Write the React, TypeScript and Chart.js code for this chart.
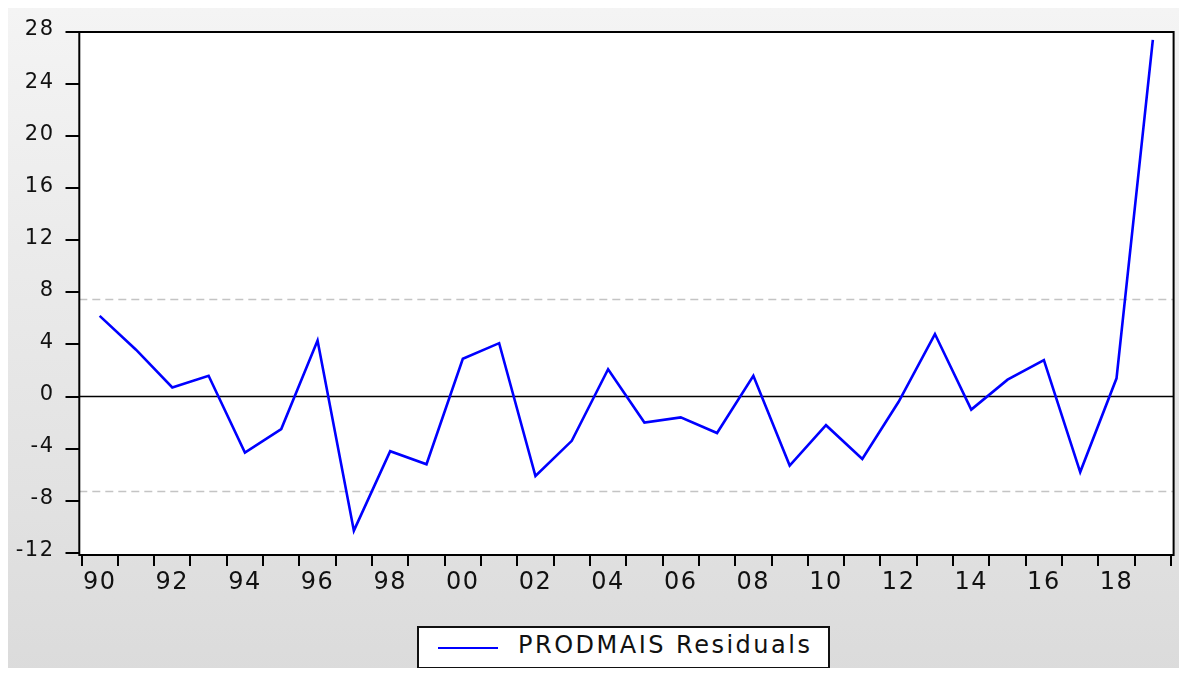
import { useEffect, useRef } from 'react';
import { Chart, registerables } from 'chart.js';

Chart.register(...registerables);

const YEARS = [
  '1990', '1991', '1992', '1993', '1994', '1995', '1996', '1997', '1998', '1999',
  '2000', '2001', '2002', '2003', '2004', '2005', '2006', '2007', '2008', '2009',
  '2010', '2011', '2012', '2013', '2014', '2015', '2016', '2017', '2018', '2019',
];

const RESIDUALS = [
  6.2, 3.6, 0.7, 1.6, -4.3, -2.5, 4.3, -10.3, -4.2, -5.2,
  2.9, 4.1, -6.1, -3.4, 2.1, -2.0, -1.6, -2.8, 1.6, -5.3,
  -2.2, -4.8, -0.4, 4.8, -1.0, 1.3, 2.8, -5.8, 1.4, 27.4,
];

const Y_TICKS = [-12, -8, -4, 0, 4, 8, 12, 16, 20, 24, 28];

const SERIES_NAME = 'PRODMAIS Residuals';
const Y_MIN = -12.17;
const Y_MAX = 28;
const BANDS = [7.45, -7.3];
const ZERO = 0;

const LINE_COLOR = '#0000ff';
const TEXT_COLOR = '#111111';
const FONT = 'DejaVu Sans';

const spacingPlugin = {
  id: 'spacing',
  beforeLayout(chart: any) {
    chart.ctx.letterSpacing = '1.5px';
  },
  beforeDraw(chart: any) {
    chart.ctx.letterSpacing = '1.5px';
  },
};

const framePlugin = {
  id: 'frame',
  beforeDatasetsDraw(chart: any) {
    const { ctx, chartArea, scales } = chart;
    const y = scales.y;
    const left = chartArea.left - 2.2;
    const right = chartArea.right + 2.6;
    ctx.save();
    ctx.fillStyle = '#ffffff';
    ctx.fillRect(left, chartArea.top, right - left, chartArea.bottom - chartArea.top);
    ctx.strokeStyle = '#c4c4c4';
    ctx.lineWidth = 1.5;
    ctx.setLineDash([8, 5]);
    for (const v of BANDS) {
      const py = y.getPixelForValue(v);
      ctx.beginPath();
      ctx.moveTo(left, py);
      ctx.lineTo(right, py);
      ctx.stroke();
    }
    ctx.setLineDash([]);
    ctx.strokeStyle = '#000000';
    ctx.lineWidth = 1.6;
    const pz = y.getPixelForValue(ZERO);
    ctx.beginPath();
    ctx.moveTo(left, pz);
    ctx.lineTo(right, pz);
    ctx.stroke();
    ctx.restore();
  },
  afterDatasetsDraw(chart: any) {
    const { ctx, chartArea } = chart;
    const left = chartArea.left - 2.2;
    const right = chartArea.right + 2.6;
    ctx.save();
    ctx.strokeStyle = '#000000';
    ctx.lineWidth = 2;
    ctx.strokeRect(left, chartArea.top, right - left, chartArea.bottom - chartArea.top);
    ctx.restore();
  },
};

export default function App() {
  const canvasRef = useRef<HTMLCanvasElement | null>(null);

  useEffect(() => {
    if (!canvasRef.current) return;
    const chart = new Chart(canvasRef.current, {
      type: 'line',
      data: {
        labels: YEARS,
        datasets: [
          {
            label: SERIES_NAME,
            data: RESIDUALS,
            borderColor: LINE_COLOR,
            backgroundColor: LINE_COLOR,
            borderWidth: 2.6,
            pointRadius: 0,
            tension: 0,
            fill: false,
          },
        ],
      },
      options: {
        animation: false,
        responsive: false,
        devicePixelRatio: 1,
        layout: { padding: { left: 0, right: 16, top: 24, bottom: 71 } },
        plugins: {
          legend: { display: false },
          tooltip: { enabled: false },
        },
        scales: {
          x: {
            type: 'category',
            offset: true,
            afterFit: (s: any) => {
              s.height = 50;
            },
            border: { display: false },
            grid: {
              offset: true,
              drawOnChartArea: false,
              drawTicks: true,
              tickLength: 11,
              color: '#000000',
              lineWidth: 2,
            },
            ticks: {
              autoSkip: false,
              maxRotation: 0,
              minRotation: 0,
              padding: 2,
              color: TEXT_COLOR,
              font: { family: FONT, size: 24 },
              callback: (_v: any, i: number) => (i % 2 === 0 ? YEARS[i].slice(2) : ''),
            },
          },
          y: {
            type: 'linear',
            min: Y_MIN,
            max: Y_MAX,
            bounds: 'data',
            afterBuildTicks: (s: any) => {
              s.ticks = Y_TICKS.map((v) => ({ value: v }));
            },
            afterFit: (s: any) => {
              s.width = 73.5;
            },
            border: { display: false },
            grid: {
              drawOnChartArea: false,
              drawTicks: true,
              tickLength: 16,
              color: '#000000',
              lineWidth: 2,
            },
            ticks: {
              padding: 11,
              labelOffset: -2,
              color: TEXT_COLOR,
              font: { family: FONT, size: 21 },
              callback: (v: any) => String(v),
            },
          },
        },
      },
      plugins: [spacingPlugin, framePlugin],
    } as any);
    return () => chart.destroy();
  }, []);

  return (
    <div
      style={{
        position: 'relative',
        width: 1179,
        height: 668,
        marginBottom: -8,
        background: 'linear-gradient(#f4f4f4, #dbdbdb)',
        overflow: 'hidden',
      }}
    >
      <canvas ref={canvasRef} width={1179} height={668} style={{ display: 'block' }} />
      <div
        style={{
          position: 'absolute',
          left: 409,
          top: 618,
          width: 413,
          height: 43,
          boxSizing: 'border-box',
          border: '2px solid #111',
          background: '#ffffff',
        }}
      >
        <div
          style={{
            position: 'absolute',
            left: 19,
            top: 18.7,
            width: 60,
            height: 2,
            background: LINE_COLOR,
          }}
        />
        <span
          style={{
            position: 'absolute',
            left: 99,
            top: 5,
            fontFamily: FONT,
            fontSize: 24,
            lineHeight: '24px',
            letterSpacing: '2.5px',
            color: TEXT_COLOR,
            whiteSpace: 'nowrap',
          }}
        >
          {SERIES_NAME}
        </span>
      </div>
    </div>
  );
}
